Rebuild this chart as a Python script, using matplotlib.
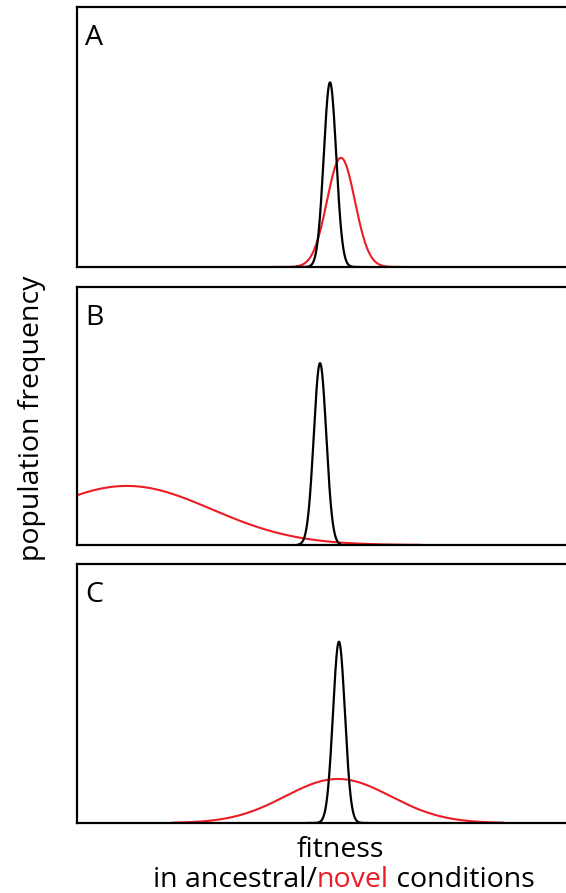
import numpy as np
import matplotlib
matplotlib.use("Agg")
from matplotlib import pyplot as plt

# fitness axis runs 0..100 (arbitrary units), frequency 0..1
panel_labels = ["A", "B", "C"]

# ancestral (black) distributions: mean, sd, peak height, plotted range
anc_mean = [50.8, 48.8, 52.6]
anc_sd = [1.25, 1.25, 1.2]
anc_peak = [0.71, 0.705, 0.70]
anc_lo = [44.2, 44.4, 46.2]
anc_hi = [56.8, 52.8, 58.4]

# novel (red) distributions
nov_mean = [53.0, 10.0, 52.4]
nov_sd = [2.8, 17.0, 10.6]
nov_peak = [0.42, 0.229, 0.17]
nov_lo = [39.2, 0.0, 19.3]
nov_hi = [65.5, 68.9, 85.5]

RED = "#ed1c24"

plt.rcParams['font.family'] = ['Open Sans', 'DejaVu Sans']

fig = plt.figure(figsize=(5.66, 8.93), dpi=100)
W, H = 566, 893

# panel pixel boxes (left, top, right, bottom)
boxes = [(77, 7, 580, 267), (77, 287, 580, 545), (77, 564, 580, 823)]


def gauss_curve(mean, sd, peak, lo, hi):
    x = np.linspace(lo, hi, 400)
    y = peak * np.exp(-0.5 * ((x - mean) / sd) ** 2)
    return x, y


for i, (l, t, r, b) in enumerate(boxes):
    ax = fig.add_axes([l / W, 1 - b / H, (r - l) / W, (b - t) / H])
    ax.set_xlim(0, (r - l) / 4.98)
    ax.set_ylim(0, 1)
    xr, yr = gauss_curve(nov_mean[i], nov_sd[i], nov_peak[i], nov_lo[i], nov_hi[i])
    ax.plot(xr, yr, color=RED, lw=1.5)
    xb, yb = gauss_curve(anc_mean[i], anc_sd[i], anc_peak[i], anc_lo[i], anc_hi[i])
    ax.plot(xb, yb, color="black", lw=1.6)
    ax.set_xticks([])
    ax.set_yticks([])
    for s in ax.spines.values():
        s.set_linewidth(1.6)
    ax.text(8 / (r - l), 1 - 31 / (b - t), panel_labels[i], transform=ax.transAxes,
            fontsize=20.5, va='center', ha='left')

fig.text(32 / W, 1 - 418 / H, "population frequency", rotation=90,
         fontsize=20.5, ha='center', va='center')
fig.text(340 / W, 1 - 850 / H, "fitness", fontsize=20.5, ha='center', va='center')

# second line with the coloured word
parts = [("in ancestral/", "black"), ("novel", RED), (" conditions", "black")]
y2 = 1 - 880 / H
texts = [fig.text(0, y2, p, color=c, fontsize=20.5, ha='left', va='center') for p, c in parts]
fig.canvas.draw()
rend = fig.canvas.get_renderer()
widths = [tx.get_window_extent(rend).width / W for tx in texts]
x = 344 / W - sum(widths) / 2
for tx, w in zip(texts, widths):
    tx.set_x(x)
    x += w

fig.savefig("out.png", dpi=100)
